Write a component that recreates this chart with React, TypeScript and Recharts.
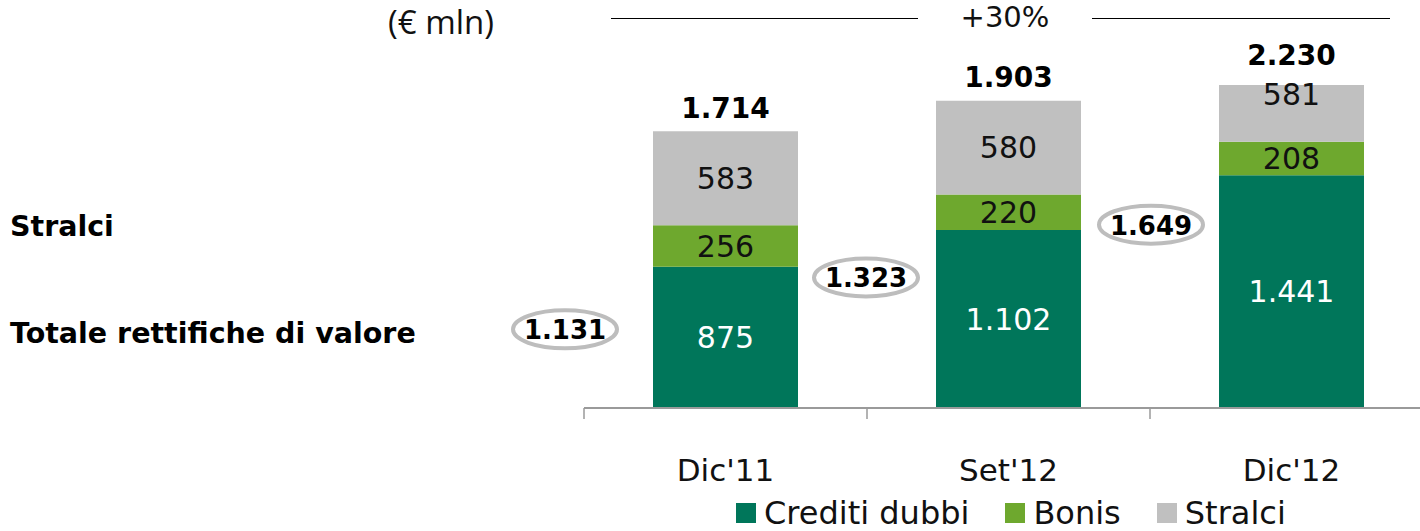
import React from 'react';
import { BarChart, Bar, XAxis, YAxis, LabelList } from 'recharts';

// ── Rettifiche di valore: stacked bars (€ mln)

const CATEGORIES = ["Dic'11", "Set'12", "Dic'12"];
const CREDITI_DUBBI = [875, 1102, 1441];
const BONIS = [256, 220, 208];
const STRALCI = [583, 580, 581];
const TOTALS = [1714, 1903, 2230];
const RETTIFICHE = [1131, 1323, 1649];
const GROWTH = '+30%';

const SERIES = [
  { key: 'crediti', name: 'Crediti dubbi', color: '#00765a', text: '#ffffff' },
  { key: 'bonis', name: 'Bonis', color: '#6ea82e', text: '#111111' },
  { key: 'stralci', name: 'Stralci', color: '#c0c0c0', text: '#111111' },
];

const data = CATEGORIES.map((cat, i) => ({
  cat,
  crediti: CREDITI_DUBBI[i],
  bonis: BONIS[i],
  stralci: STRALCI[i],
  total: TOTALS[i],
  rett: RETTIFICHE[i],
}));

const FONT = '"DejaVu Sans", sans-serif';
const PLOT_TOP = 85;
const AXIS_H = 123;
const Y_MAX = 2000;
const PX_PER_UNIT = (531 - AXIS_H - PLOT_TOP) / Y_MAX;
const BAND = 283;
// ellipse offsets relative to the Bonis rect (left edge, top)
const ELLIPSE_OFF = [[-88, 104], [-70, 83], [-68, 83]];

const fmt = (v: number) => String(v).replace(/\B(?=(\d{3})+(?!\d))/g, '.');

const TotalLabel = (props: any) => {
  const { x, y, width, index } = props;
  const clipped = y <= PLOT_TOP + 0.5;
  const top = Math.max(y, PLOT_TOP);
  return (
    <text x={x + width / 2} y={top - (clipped ? 30 : 23)} textAnchor="middle" dominantBaseline="central"
      fontFamily={FONT} fontWeight={700} fontSize={28} fill="#000">
      {fmt(TOTALS[index])}
    </text>
  );
};

const EllipseLabel = (props: any) => {
  const { x, y, index } = props;
  const [dx, dy] = ELLIPSE_OFF[index];
  const cx = x + dx;
  const cy = y + dy;
  return (
    <g>
      <ellipse cx={cx} cy={cy} rx={52} ry={19} fill="#fff" stroke="#bdbdbd" strokeWidth={4} />
      <text x={cx} y={cy + 1} textAnchor="middle" dominantBaseline="central"
        fontFamily={FONT} fontWeight={700} fontSize={26} fill="#000">
        {fmt(RETTIFICHE[index])}
      </text>
    </g>
  );
};

// label centred on the full (unclipped) segment
const segLabel = (color: string) => (props: any) => {
  const { x, y, width, height, value } = props;
  const cy = y + height - (value * PX_PER_UNIT) / 2;
  return (
    <text x={x + width / 2} y={cy} textAnchor="middle" dominantBaseline="central"
      fontFamily={FONT} fontSize={30} fill={color}>
      {fmt(value)}
    </text>
  );
};

const CatTick = (props: any) => {
  const { x, y, payload } = props;
  return (
    <g>
      <line x1={x - BAND / 2} x2={x - BAND / 2} y1={y - 8} y2={y + 3} stroke="#9a9a9a" strokeWidth={1.5} />
      <text x={x} y={y + 54} textAnchor="middle" dominantBaseline="central"
        fontFamily={FONT} fontSize={31} fill="#111">
        {payload.value}
      </text>
    </g>
  );
};

export default function App() {
  return (
    <div style={{ position: 'absolute', left: 0, top: 0, width: 1420, height: 531, background: '#fff', fontFamily: FONT, overflow: 'hidden' }}>
      <div style={{ position: 'absolute', left: 388, top: -1, fontSize: 33, fontFamily: '"Open Sans", sans-serif', color: '#111' }}>(€ mln)</div>
      <div style={{ position: 'absolute', left: 611, top: 18, width: 307, height: 0, borderTop: '1.5px solid #000' }} />
      <div style={{ position: 'absolute', left: 1092, top: 18, width: 298, height: 0, borderTop: '1.5px solid #000' }} />
      <div style={{ position: 'absolute', left: 950, top: 0, width: 110, textAlign: 'center', fontSize: 29, color: '#111' }}>{GROWTH}</div>
      <div style={{ position: 'absolute', left: 10, top: 210, fontSize: 28.5, fontWeight: 700, color: '#000' }}>Stralci</div>
      <div style={{ position: 'absolute', left: 10, top: 317, fontSize: 28.5, fontWeight: 700, color: '#000' }}>Totale rettifiche di valore</div>

      <BarChart width={1420} height={531} data={data}
        margin={{ top: PLOT_TOP, right: -13, bottom: 0, left: 584 }}>
        <XAxis dataKey="cat" axisLine={{ stroke: '#9a9a9a', strokeWidth: 2 }} tickLine={false} tick={<CatTick />} interval={0} height={AXIS_H} />
        <YAxis hide domain={[0, Y_MAX]} allowDataOverflow />
        <Bar dataKey="crediti" stackId="a" fill={SERIES[0].color} barSize={145} isAnimationActive={false}>
          <LabelList dataKey="crediti" content={segLabel(SERIES[0].text)} />
        </Bar>
        <Bar dataKey="bonis" stackId="a" fill={SERIES[1].color} barSize={145} isAnimationActive={false}>
          <LabelList dataKey="bonis" content={segLabel(SERIES[1].text)} />
          <LabelList dataKey="rett" content={<EllipseLabel />} />
        </Bar>
        <Bar dataKey="stralci" stackId="a" fill={SERIES[2].color} barSize={145} isAnimationActive={false}>
          <LabelList dataKey="stralci" content={segLabel(SERIES[2].text)} />
          <LabelList dataKey="total" content={<TotalLabel />} />
        </Bar>
      </BarChart>

      <div style={{ position: 'absolute', left: 736, top: 495, display: 'flex', alignItems: 'center', fontSize: 32, color: '#111', lineHeight: '36px' }}>
        {SERIES.map(s => (
          <div key={s.key} style={{ display: 'flex', alignItems: 'center', marginRight: 36 }}>
            <span style={{ width: 20, height: 20, background: s.color, display: 'inline-block', marginRight: 8 }} />
            <span>{s.name}</span>
          </div>
        ))}
      </div>
    </div>
  );
}
